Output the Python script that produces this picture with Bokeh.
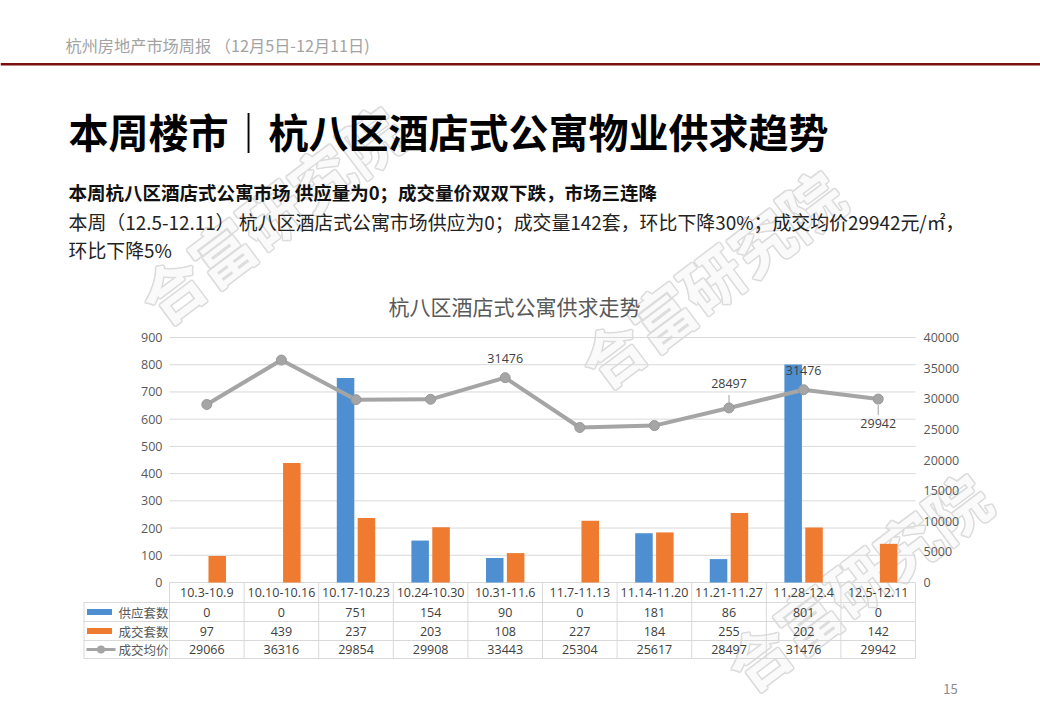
import numpy as np
from bokeh.plotting import figure
from bokeh.models import Range1d, LinearAxis, FixedTicker
from bokeh.core.properties import value
from bokeh.embed import file_html
from bokeh.resources import INLINE

# ---------------- data ----------------
categories = ["10.3-10.9", "10.10-10.16", "10.17-10.23", "10.24-10.30", "10.31-11.6",
              "11.7-11.13", "11.14-11.20", "11.21-11.27", "11.28-12.4", "12.5-12.11"]
supply = [0, 0, 751, 154, 90, 0, 181, 86, 801, 0]          # 供应套数
sales = [97, 439, 237, 203, 108, 227, 184, 255, 202, 142]   # 成交套数
price = [29066, 36316, 29854, 29908, 33443, 25304, 25617, 28497, 31476, 29942]  # 成交均价
series_names = ["供应套数", "成交套数", "成交均价"]
left_ticks = [0, 100, 200, 300, 400, 500, 600, 700, 800, 900]
right_ticks = [0, 5000, 10000, 15000, 20000, 25000, 30000, 35000, 40000]
label_idx = [4, 7, 8, 9]                       # data labels shown on the line
label_text = ["31476", "28497", "31476", "29942"]

header_text = "杭州房地产市场周报 （12月5日-12月11日)"
title_text = "本周楼市｜杭八区酒店式公寓物业供求趋势"
sub_text = "本周杭八区酒店式公寓市场 供应量为0；成交量价双双下跌，市场三连降"
para1 = "本周（12.5-12.11） 杭八区酒店式公寓市场供应为0；成交量142套，环比下降30%；成交均价29942元/㎡，"
para2 = "环比下降5%"
chart_title = "杭八区酒店式公寓供求走势"
page_no = "15"
watermark = "合富研究院"

# ---------------- layout (pixel geometry of the slide) ----------------
W, H = 1040, 720
CL, CR = 169.0, 915.0          # chart plot area left / right (px)
C0, C900 = 582.0, 337.0        # y px of value 0 and 900
PXU = (CR - CL) / 10.0
UPY = 900.0 / (C0 - C900)
RSC = 40000.0 / 900.0
CJK = "Noto Sans CJK SC"
NUM = "Open Sans"
BLUE, ORANGE, GRAY = "#4E8FD2", "#EE7B30", "#A5A5A5"
GRID = "#D9D9D9"

def dx(px):
    return -0.5 + (px - CL) / PXU

def dy(py):
    return (C0 - py) * UPY

p = figure(width=W, height=H, output_backend="svg", toolbar_location=None,
           x_range=Range1d(dx(0), dx(W)), y_range=Range1d(dy(H), dy(0)),
           x_axis_location=None, y_axis_location=None,
           min_border=0, min_border_left=0, min_border_right=0,
           min_border_top=0, min_border_bottom=0, outline_line_color=None,
           background_fill_color="white", border_fill_color="white")
p.extra_y_ranges = {"right": Range1d(dy(H) * RSC, dy(0) * RSC)}
p.xgrid.visible = False
p.ygrid.visible = False

# ---------------- watermarks ----------------
wm_x = [dx(270), dx(710), dx(856)]
wm_y = [dy(213), dy(277), dy(580)]
wm_style = dict(angle=37, angle_units="deg", text_font=value(CJK), text_font_style="bold",
                text_font_size="62px", text_align="center", text_baseline="middle")
for ox, oy in [(-1.5, 0), (1.5, 0), (0, -1.5), (0, 1.5), (-1.1, -1.1), (1.1, 1.1), (-1.1, 1.1), (1.1, -1.1)]:
    p.text(x=wm_x, y=wm_y, text=[watermark] * 3, x_offset=ox, y_offset=oy,
           text_color="#DCDCDC", **wm_style)
p.text(x=wm_x, y=wm_y, text=[watermark] * 3, text_color="#FAFAFA", **wm_style)

# ---------------- axes (fixed at the chart edges) ----------------
yax = LinearAxis(ticker=FixedTicker(ticks=left_ticks), fixed_location=-0.5)
ra = LinearAxis(y_range_name="right", ticker=FixedTicker(ticks=right_ticks), fixed_location=9.5)
p.add_layout(yax, "left")
p.add_layout(ra, "right")
for ax, so in [(yax, 7), (ra, 8)]:
    ax.axis_line_color = None
    ax.major_tick_line_color = None
    ax.minor_tick_line_color = None
    ax.major_tick_out = 0
    ax.major_tick_in = 0
    ax.major_label_standoff = so
    ax.major_label_text_font = NUM
    ax.major_label_text_font_size = "12.5px"
    ax.major_label_text_color = "#595959"

# gridlines across the chart area only
p.segment(x0=[-0.5] * len(left_ticks), x1=[9.5] * len(left_ticks), y0=left_ticks, y1=left_ticks,
          line_color=GRID, line_width=1)

# ---------------- series ----------------
x = np.arange(len(categories))
p.vbar(x=x - 0.14, top=supply, width=0.235, fill_color=BLUE, line_color=None)
p.vbar(x=x + 0.14, top=sales, width=0.235, fill_color=ORANGE, line_color=None)
p.line(x, price, y_range_name="right", line_width=4, line_color=GRAY)
p.scatter(x, price, y_range_name="right", size=10, fill_color=GRAY, line_color="#999999")

# data labels
RPX = 40000.0 / (C0 - C900)
lab_off = [19.5, 24.5, 19.5, -24.3]
ly = [price[i] + o * RPX for i, o in zip(label_idx, lab_off)]
p.text(x=label_idx, y=ly, text=label_text, y_range_name="right", text_align="center",
       text_baseline="middle", text_font=value(NUM), text_font_size="12.5px",
       text_color="#404040")
p.segment(x0=[7, 9], x1=[7, 9],
          y0=[price[7] + 3 * RPX, price[9] - 6 * RPX],
          y1=[price[7] + 13 * RPX, price[9] - 16 * RPX],
          y_range_name="right", line_color="#A0A0A0", line_width=1)

# ---------------- data table ----------------
row_lines = [602, 621, 640, 658]
p.segment(x0=[dx(83)] * 4, x1=[9.5] * 4, y0=[dy(r) for r in row_lines],
          y1=[dy(r) for r in row_lines], line_color=GRID, line_width=1)
xb = np.arange(len(categories) + 1) - 0.5
p.segment(x0=xb, x1=xb, y0=[0] * len(xb), y1=[dy(658)] * len(xb), line_color=GRID, line_width=1)
p.segment(x0=[dx(83.5)], x1=[dx(83.5)], y0=[dy(602)], y1=[dy(658)], line_color=GRID, line_width=1)

cell = dict(text_align="center", text_baseline="middle", text_font=value(NUM),
            text_font_size="12.5px", text_color="#404040")
p.text(x=x, y=[dy(592)] * len(x), text=categories, **cell)
p.text(x=x, y=[dy(611.5)] * len(x), text=[str(v) for v in supply], **cell)
p.text(x=x, y=[dy(630.5)] * len(x), text=[str(v) for v in sales], **cell)
p.text(x=x, y=[dy(649)] * len(x), text=[str(v) for v in price], **cell)

# legend keys in the table
p.quad(left=[dx(86.5), dx(86.5)], right=[dx(111.5), dx(111.5)],
       top=[dy(608.5), dy(627.5)], bottom=[dy(614.5), dy(633.5)],
       fill_color=[BLUE, ORANGE], line_color=None)
p.segment(x0=[dx(86)], x1=[dx(115)], y0=[dy(649)], y1=[dy(649)], line_color=GRAY, line_width=3)
p.scatter(x=[dx(100.5)], y=[dy(649)], size=8, fill_color=GRAY, line_color=None)
p.text(x=[dx(118)] * 3, y=[dy(611.5), dy(630.5), dy(649)], text=series_names,
       text_align="left", text_baseline="middle", text_font=value(CJK),
       text_font_size="12.5px", text_color="#595959")

# ---------------- slide texts ----------------
def lab(text, px, py, size, color, bold=False, align="left"):
    p.text(x=[dx(px)], y=[dy(py)], text=[text], text_font=value(CJK), text_font_size=size,
           text_color=color, text_font_style="bold" if bold else "normal",
           text_align=align, text_baseline="middle")

lab(header_text, 65, 44, "16.2px", "#A3A3A3")
p.quad(left=[dx(0)], right=[dx(W)], top=[dy(62.5)], bottom=[dy(65)], fill_color="#7A0F10",
       line_color=None)
lab(title_text, 68, 130, "40px", "#000000", bold=True)
lab(sub_text, 68, 191, "18.5px", "#111111", bold=True)
lab(para1, 68, 221, "18.9px", "#222222")
lab(para2, 68, 249, "18.9px", "#222222")
lab(chart_title, 514, 305, "21px", "#595959", align="center")
lab(page_no, 950, 688, "13px", "#8C8C8C", align="center")

open("out.html", "w").write(file_html(p, INLINE))
